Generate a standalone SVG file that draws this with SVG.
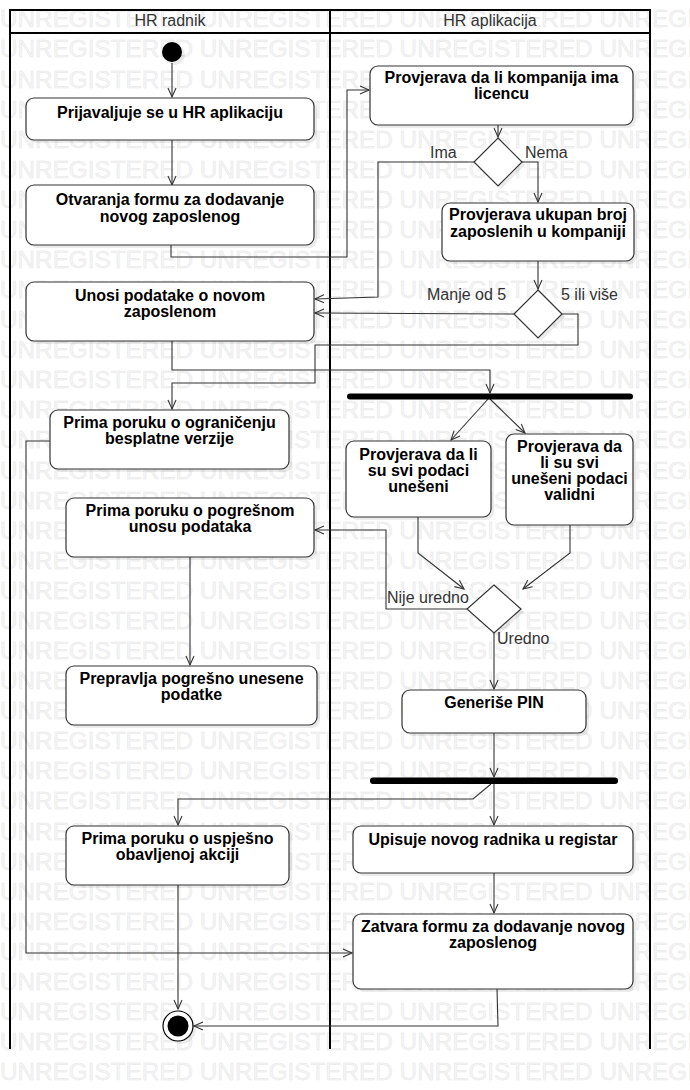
<svg xmlns="http://www.w3.org/2000/svg" width="690" height="1090" viewBox="0 0 690 1090">
<style>
.wm{font-family:"Liberation Sans",Arial,sans-serif;font-size:24.3px;fill:#f5f5f5;stroke:#e8e8e8;stroke-width:0.5}
.lane{fill:none;stroke:#000;stroke-width:2}
.hd{font-family:"Liberation Sans",Arial,sans-serif;font-size:16px;fill:#333;text-anchor:middle}
.box{fill:#fff;stroke:#333;stroke-width:1.2}
.sh{fill:#000;opacity:0.08}
.t{font-family:"Liberation Sans",Arial,sans-serif;font-size:16px;font-weight:bold;fill:#000;text-anchor:middle}
.lb{font-family:"Liberation Sans",Arial,sans-serif;font-size:16px;fill:#333}
.c{fill:none;stroke:#333;stroke-width:1.1;marker-end:url(#ar)}
.bar{fill:#000}
</style>
<defs>
<marker id="ar" markerUnits="userSpaceOnUse" markerWidth="14" markerHeight="12" refX="10" refY="5" orient="auto" viewBox="0 0 14 12">
<path d="M1,1 L10,5 L1,9" fill="none" stroke="#333" stroke-width="1.1"/>
</marker>
</defs>
<g id="watermark">
<text class="wm" x="0" y="27.3">UNREGISTERED UNREGISTERED UNREGISTERED UNREGISTERED</text>
<text class="wm" x="0" y="57.4">UNREGISTERED UNREGISTERED UNREGISTERED UNREGISTERED</text>
<text class="wm" x="0" y="87.5">UNREGISTERED UNREGISTERED UNREGISTERED UNREGISTERED</text>
<text class="wm" x="0" y="117.5">UNREGISTERED UNREGISTERED UNREGISTERED UNREGISTERED</text>
<text class="wm" x="0" y="147.6">UNREGISTERED UNREGISTERED UNREGISTERED UNREGISTERED</text>
<text class="wm" x="0" y="177.7">UNREGISTERED UNREGISTERED UNREGISTERED UNREGISTERED</text>
<text class="wm" x="0" y="207.8">UNREGISTERED UNREGISTERED UNREGISTERED UNREGISTERED</text>
<text class="wm" x="0" y="237.9">UNREGISTERED UNREGISTERED UNREGISTERED UNREGISTERED</text>
<text class="wm" x="0" y="267.9">UNREGISTERED UNREGISTERED UNREGISTERED UNREGISTERED</text>
<text class="wm" x="0" y="298.0">UNREGISTERED UNREGISTERED UNREGISTERED UNREGISTERED</text>
<text class="wm" x="0" y="328.1">UNREGISTERED UNREGISTERED UNREGISTERED UNREGISTERED</text>
<text class="wm" x="0" y="358.2">UNREGISTERED UNREGISTERED UNREGISTERED UNREGISTERED</text>
<text class="wm" x="0" y="388.3">UNREGISTERED UNREGISTERED UNREGISTERED UNREGISTERED</text>
<text class="wm" x="0" y="418.3">UNREGISTERED UNREGISTERED UNREGISTERED UNREGISTERED</text>
<text class="wm" x="0" y="448.4">UNREGISTERED UNREGISTERED UNREGISTERED UNREGISTERED</text>
<text class="wm" x="0" y="478.5">UNREGISTERED UNREGISTERED UNREGISTERED UNREGISTERED</text>
<text class="wm" x="0" y="508.6">UNREGISTERED UNREGISTERED UNREGISTERED UNREGISTERED</text>
<text class="wm" x="0" y="538.7">UNREGISTERED UNREGISTERED UNREGISTERED UNREGISTERED</text>
<text class="wm" x="0" y="568.7">UNREGISTERED UNREGISTERED UNREGISTERED UNREGISTERED</text>
<text class="wm" x="0" y="598.8">UNREGISTERED UNREGISTERED UNREGISTERED UNREGISTERED</text>
<text class="wm" x="0" y="628.9">UNREGISTERED UNREGISTERED UNREGISTERED UNREGISTERED</text>
<text class="wm" x="0" y="659.0">UNREGISTERED UNREGISTERED UNREGISTERED UNREGISTERED</text>
<text class="wm" x="0" y="689.1">UNREGISTERED UNREGISTERED UNREGISTERED UNREGISTERED</text>
<text class="wm" x="0" y="719.1">UNREGISTERED UNREGISTERED UNREGISTERED UNREGISTERED</text>
<text class="wm" x="0" y="749.2">UNREGISTERED UNREGISTERED UNREGISTERED UNREGISTERED</text>
<text class="wm" x="0" y="779.3">UNREGISTERED UNREGISTERED UNREGISTERED UNREGISTERED</text>
<text class="wm" x="0" y="809.4">UNREGISTERED UNREGISTERED UNREGISTERED UNREGISTERED</text>
<text class="wm" x="0" y="839.5">UNREGISTERED UNREGISTERED UNREGISTERED UNREGISTERED</text>
<text class="wm" x="0" y="869.5">UNREGISTERED UNREGISTERED UNREGISTERED UNREGISTERED</text>
<text class="wm" x="0" y="899.6">UNREGISTERED UNREGISTERED UNREGISTERED UNREGISTERED</text>
<text class="wm" x="0" y="929.7">UNREGISTERED UNREGISTERED UNREGISTERED UNREGISTERED</text>
<text class="wm" x="0" y="959.8">UNREGISTERED UNREGISTERED UNREGISTERED UNREGISTERED</text>
<text class="wm" x="0" y="989.9">UNREGISTERED UNREGISTERED UNREGISTERED UNREGISTERED</text>
<text class="wm" x="0" y="1019.9">UNREGISTERED UNREGISTERED UNREGISTERED UNREGISTERED</text>
<text class="wm" x="0" y="1050.0">UNREGISTERED UNREGISTERED UNREGISTERED UNREGISTERED</text>
<text class="wm" x="0" y="1080.1">UNREGISTERED UNREGISTERED UNREGISTERED UNREGISTERED</text>
</g>
<g id="lanes">
<path class="lane" d="M10,1049 V10 H650 V1049 M10,33 H650 M330,10 V1049"/>
<text class="hd" x="170" y="26">HR radnik</text>
<text class="hd" x="490" y="26">HR aplikacija</text>
</g>
<g id="connectors">
<path class="c" d="M172,63 V97"/>
<path class="c" d="M172,140 V185"/>
<path class="c" d="M171,245 V257 H347 V90 H369"/>
<path class="c" d="M498,125 V137"/>
<path class="c" d="M474,162 H378 V297 L315,299"/>
<path class="c" d="M522,162 H538 V202"/>
<path class="c" d="M538,261 V289"/>
<path class="c" d="M514,314 L315,313"/>
<path class="c" d="M562,314 H578 V345 H315 V383 H172 V409"/>
<path class="c" d="M172,341 V370 H490 V393"/>
<path class="c" d="M489,398 L451,440"/>
<path class="c" d="M489,398 L525,433"/>
<path class="c" d="M418,517 V553 L464,589"/>
<path class="c" d="M570,525 V553 L523,589"/>
<path class="c" d="M467,609 H386 V530 H315"/>
<path class="c" d="M494,633 V689"/>
<path class="c" d="M190,557 V665"/>
<path class="c" d="M494,733 V777"/>
<path class="c" d="M491,784 L473,799 H178 V825"/>
<path class="c" d="M494,784 V825"/>
<path class="c" d="M494,873 V913"/>
<path class="c" d="M50,441 H26 V953 H352"/>
<path class="c" d="M497,989 L498,1026 H194"/>
<path class="c" d="M178,885 V1009"/>
<text class="lb" x="430" y="158">Ima</text>
<text class="lb" x="525" y="158">Nema</text>
<text class="lb" x="427" y="300">Manje od 5</text>
<text class="lb" x="561" y="300">5 ili više</text>
<text class="lb" x="387" y="603">Nije uredno</text>
<text class="lb" x="497" y="644">Uredno</text>
</g>
<g id="start">
<circle class="sh" cx="175" cy="55" r="10"/>
<circle cx="172" cy="52" r="10" fill="#000"/>
</g>
<g id="n_prijava">
<rect class="sh" x="29" y="101" width="288" height="42" rx="8"/>
<rect class="box" x="26" y="98" width="288" height="42" rx="8"/>
<text class="t" x="170" y="118">Prijavaljuje se u HR aplikaciju</text>
</g>
<g id="n_otvaranje">
<rect class="sh" x="29" y="188" width="288" height="60" rx="8"/>
<rect class="box" x="26" y="185" width="288" height="60" rx="8"/>
<text class="t" x="170" y="205">Otvaranja formu za dodavanje</text>
<text class="t" x="170" y="222">novog zaposlenog</text>
</g>
<g id="n_unos">
<rect class="sh" x="29" y="285" width="288" height="59" rx="8"/>
<rect class="box" x="26" y="282" width="288" height="59" rx="8"/>
<text class="t" x="170" y="301">Unosi podatake o novom</text>
<text class="t" x="170" y="317">zaposlenom</text>
</g>
<g id="n_licenca">
<rect class="sh" x="373" y="69" width="263" height="59" rx="8"/>
<rect class="box" x="370" y="66" width="263" height="59" rx="8"/>
<text class="t" x="501.5" y="83">Provjerava da li kompanija ima</text>
<text class="t" x="501.5" y="99">licencu</text>
</g>
<g id="d_licenca">
<path class="sh" d="M501,141 L525,165 L501,189 L477,165 Z"/>
<path class="box" d="M498,138 L522,162 L498,186 L474,162 Z"/>
</g>
<g id="n_broj">
<rect class="sh" x="445" y="206" width="192" height="58" rx="8"/>
<rect class="box" x="442" y="203" width="192" height="58" rx="8"/>
<text class="t" x="538" y="220">Provjerava ukupan broj</text>
<text class="t" x="538" y="237">zaposlenih u kompaniji</text>
</g>
<g id="d_broj">
<path class="sh" d="M541,293 L565,317 L541,341 L517,317 Z"/>
<path class="box" d="M538,290 L562,314 L538,338 L514,314 Z"/>
</g>
<g id="n_ogranicenje">
<rect class="sh" x="53" y="413" width="239" height="59" rx="8"/>
<rect class="box" x="50" y="410" width="239" height="59" rx="8"/>
<text class="t" x="169.5" y="428">Prima poruku o ograničenju</text>
<text class="t" x="169.5" y="444">besplatne verzije</text>
</g>
<g id="n_pogresan">
<rect class="sh" x="69" y="501" width="248" height="59" rx="8"/>
<rect class="box" x="66" y="498" width="248" height="59" rx="8"/>
<text class="t" x="190" y="516">Prima poruku o pogrešnom</text>
<text class="t" x="190" y="532">unosu podataka</text>
</g>
<g id="n_prepravlja">
<rect class="sh" x="69" y="669" width="251" height="59" rx="8"/>
<rect class="box" x="66" y="666" width="251" height="59" rx="8"/>
<text class="t" x="191.5" y="684">Prepravlja pogrešno unesene</text>
<text class="t" x="191.5" y="700">podatke</text>
</g>
<g id="fork1">
<rect class="bar" x="347" y="393.5" width="286" height="6" rx="3"/>
</g>
<g id="n_uneseni">
<rect class="sh" x="349" y="444" width="145" height="76" rx="8"/>
<rect class="box" x="346" y="441" width="145" height="76" rx="8"/>
<text class="t" x="418.5" y="460">Provjerava da li</text>
<text class="t" x="418.5" y="476">su svi podaci</text>
<text class="t" x="418.5" y="492">unešeni</text>
</g>
<g id="n_validni">
<rect class="sh" x="509" y="437" width="127" height="91" rx="8"/>
<rect class="box" x="506" y="434" width="127" height="91" rx="8"/>
<text class="t" x="569.5" y="452">Provjerava da</text>
<text class="t" x="569.5" y="468">li su svi</text>
<text class="t" x="569.5" y="484">unešeni podaci</text>
<text class="t" x="569.5" y="500">validni</text>
</g>
<g id="d_uredno">
<path class="sh" d="M497,588 L524,612 L497,636 L470,612 Z"/>
<path class="box" d="M494,585 L521,609 L494,633 L467,609 Z"/>
</g>
<g id="n_pin">
<rect class="sh" x="405" y="693" width="184" height="43" rx="8"/>
<rect class="box" x="402" y="690" width="184" height="43" rx="8"/>
<text class="t" x="494" y="708">Generiše PIN</text>
</g>
<g id="fork2">
<rect class="bar" x="370" y="777.5" width="248" height="6.5" rx="3"/>
</g>
<g id="n_upisuje">
<rect class="sh" x="356" y="829" width="280" height="47" rx="8"/>
<rect class="box" x="353" y="826" width="280" height="47" rx="8"/>
<text class="t" x="493" y="845">Upisuje novog radnika u registar</text>
</g>
<g id="n_zatvara">
<rect class="sh" x="356" y="917" width="280" height="75" rx="8"/>
<rect class="box" x="353" y="914" width="280" height="75" rx="8"/>
<text class="t" x="493" y="932">Zatvara formu za dodavanje novog</text>
<text class="t" x="493" y="948">zaposlenog</text>
</g>
<g id="n_uspjesno">
<rect class="sh" x="69" y="829" width="223" height="59" rx="8"/>
<rect class="box" x="66" y="826" width="223" height="59" rx="8"/>
<text class="t" x="177.5" y="844">Prima poruku o uspješno</text>
<text class="t" x="177.5" y="860">obavljenoj akciji</text>
</g>
<g id="end">
<circle class="sh" cx="181" cy="1029" r="15"/>
<circle cx="178" cy="1026" r="15" fill="#fff" stroke="#000" stroke-width="1.2"/>
<circle cx="178" cy="1026" r="10.5" fill="#000"/>
</g>
</svg>
